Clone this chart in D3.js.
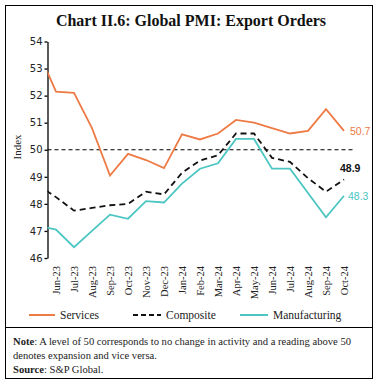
<!DOCTYPE html>
<html>
<head>
<meta charset="utf-8">
<script src="https://cdn.jsdelivr.net/npm/d3@7"></script>
<style>
	body { margin: 0; background: #fff; }
	svg { display: block; }
</style>
</head>
<body>
<div class="chart"></div>
<script>

// data (first month is only partly visible at the left edge)
var months = ["May-23", "Jun-23", "Jul-23", "Aug-23", "Sep-23", "Oct-23", "Nov-23", "Dec-23",
	"Jan-24", "Feb-24", "Mar-24", "Apr-24", "May-24", "Jun-24", "Jul-24", "Aug-24", "Sep-24", "Oct-24"];

var services = [53.65, 52.15, 52.1, 50.8, 49.05, 49.85, 49.62, 49.32, 50.57, 50.38, 50.6, 51.1,
	51.0, 50.8, 50.6, 50.7, 51.5, 50.7];
var composite = [48.7, 48.25, 47.75, 47.85, 47.95, 48.0, 48.45, 48.35, 49.15, 49.6, 49.8, 50.6,
	50.6, 49.7, 49.55, 48.95, 48.45, 48.9];
var manufacturing = [47.2, 47.05, 46.4, 47.0, 47.6, 47.45, 48.1, 48.05, 48.75, 49.3, 49.5, 50.4,
	50.4, 49.3, 49.3, 48.4, 47.5, 48.3];

var yTicks = [46, 47, 48, 49, 50, 51, 52, 53, 54];
var endLabels = ["50.7", "48.9", "48.3"];

var width = 382,
	height = 384;

var colors = {services: "#ee7a45", composite: "#111", manufacturing: "#4cc6c2"};

var svg = d3.select(".chart").append("svg")
	.attr("width", width)
	.attr("height", height);

// frame and divider above the note
svg.append("rect")
	.attr("x", 5.5).attr("y", 5.5)
	.attr("width", 367).attr("height", 373)
	.attr("fill", "none").attr("stroke", "#000").attr("stroke-width", 1);

svg.append("line")
	.attr("x1", 5.5).attr("x2", 372.5)
	.attr("y1", 327.5).attr("y2", 327.5)
	.attr("stroke", "#000").attr("stroke-width", 1);

// title
svg.append("text")
	.attr("x", 191).attr("y", 26)
	.attr("text-anchor", "middle")
	.style("font-family", "'Liberation Serif', serif")
	.style("font-size", "16px")
	.style("font-weight", "bold")
	.attr("fill", "#111")
	.text("Chart II.6: Global PMI: Export Orders");

// scales
var x = d3.scaleBand()
	.domain(months)
	.range([29, 353])
	.padding(0);

var y = d3.scaleLinear()
	.domain([46, 54])
	.range([258, 41.5]);

function cx(m) { return x(m) + x.bandwidth() / 2; }

// y axis
var yAxis = svg.append("g")
	.attr("transform", "translate(47.5,0)")
	.call(d3.axisLeft(y).tickValues(yTicks).tickSize(3).tickPadding(2).tickSizeOuter(0));

yAxis.select(".domain").attr("stroke", "#000").attr("stroke-width", 1.3);
yAxis.selectAll(".tick line").attr("stroke", "#000").attr("stroke-width", 1.3);
yAxis.selectAll("text")
	.style("font-family", "'DejaVu Sans', sans-serif")
	.style("font-size", "10px")
	.attr("fill", "#222");

svg.append("text")
	.attr("transform", "translate(21,147) rotate(-90)")
	.attr("text-anchor", "middle")
	.style("font-family", "'Liberation Serif', serif")
	.style("font-size", "11px")
	.attr("fill", "#222")
	.text("Index");

// x tick labels (rotated)
svg.append("g").selectAll("text")
	.data(months.slice(1))
	.enter().append("text")
	.attr("transform", function(d) { return "translate(" + cx(d) + ",266) rotate(-90)"; })
	.attr("dy", "0.35em")
	.attr("text-anchor", "end")
	.style("font-family", "'Liberation Serif', serif")
	.style("font-size", "10.5px")
	.attr("fill", "#222")
	.text(function(d) { return d; });

// 50 reference line
svg.append("line")
	.attr("x1", 47.5).attr("x2", 354)
	.attr("y1", y(50)).attr("y2", y(50))
	.attr("stroke", "#000")
	.attr("stroke-width", 1.2)
	.attr("stroke-dasharray", "4,3");

// clip so the partial first month starts at the axis
svg.append("clipPath").attr("id", "plot")
	.append("rect").attr("x", 47.5).attr("y", 30).attr("width", 320).attr("height", 240);

var line = d3.line()
	.x(function(d, i) { return cx(months[i]); })
	.y(function(d) { return y(d); });

var series = [
	{name: "services", values: services, dash: null},
	{name: "composite", values: composite, dash: "6,4"},
	{name: "manufacturing", values: manufacturing, dash: null}
];

svg.append("g").attr("clip-path", "url(#plot)")
	.selectAll("path")
	.data(series)
	.enter().append("path")
	.attr("d", function(d) { return line(d.values); })
	.attr("fill", "none")
	.attr("stroke", function(d) { return colors[d.name]; })
	.attr("stroke-width", 1.8)
	.attr("stroke-dasharray", function(d) { return d.dash; });

// end labels
var last = months[months.length - 1];
svg.append("text")
	.attr("x", cx(last) + 6).attr("y", y(services[services.length - 1]) + 4)
	.style("font-family", "'Liberation Sans', sans-serif").style("font-size", "10.5px")
	.attr("fill", colors.services).text(endLabels[0]);
svg.append("text")
	.attr("x", cx(last) - 4).attr("y", y(composite[composite.length - 1]) - 8)
	.style("font-family", "'Liberation Sans', sans-serif").style("font-size", "10.5px")
	.style("font-weight", "bold")
	.attr("fill", "#111").text(endLabels[1]);
svg.append("text")
	.attr("x", cx(last) + 4).attr("y", y(manufacturing[manufacturing.length - 1]) + 4)
	.style("font-family", "'Liberation Sans', sans-serif").style("font-size", "10.5px")
	.attr("fill", colors.manufacturing).text(endLabels[2]);

// legend
var legend = [
	{label: "Services", key: "services", x1: 29, x2: 55, dash: null},
	{label: "Composite", key: "composite", x1: 133, x2: 161, dash: "5,3"},
	{label: "Manufacturing", key: "manufacturing", x1: 240, x2: 268, dash: null}
];

var lg = svg.append("g").selectAll("g").data(legend).enter().append("g");
lg.append("line")
	.attr("x1", function(d) { return d.x1; }).attr("x2", function(d) { return d.x2; })
	.attr("y1", 315).attr("y2", 315)
	.attr("stroke", function(d) { return colors[d.key]; })
	.attr("stroke-width", 2)
	.attr("stroke-dasharray", function(d) { return d.dash; });
lg.append("text")
	.attr("x", function(d) { return d.x2 + 5; })
	.attr("y", 319)
	.style("font-family", "'Liberation Serif', serif")
	.style("font-size", "11.5px")
	.attr("fill", "#222")
	.text(function(d) { return d.label; });

// note and source
var note = svg.append("g")
	.style("font-family", "'Liberation Serif', serif")
	.style("font-size", "10.6px")
	.attr("fill", "#222");

var t1 = note.append("text").attr("x", 13).attr("y", 345);
t1.append("tspan").style("font-weight", "bold").text("Note");
t1.append("tspan").text(": A level of 50 corresponds to no change in activity and a reading above 50");
note.append("text").attr("x", 13).attr("y", 359).text("denotes expansion and vice versa.");
var t3 = note.append("text").attr("x", 13).attr("y", 373);
t3.append("tspan").style("font-weight", "bold").text("Source");
t3.append("tspan").text(": S&P Global.");

</script>
</body>
</html>
